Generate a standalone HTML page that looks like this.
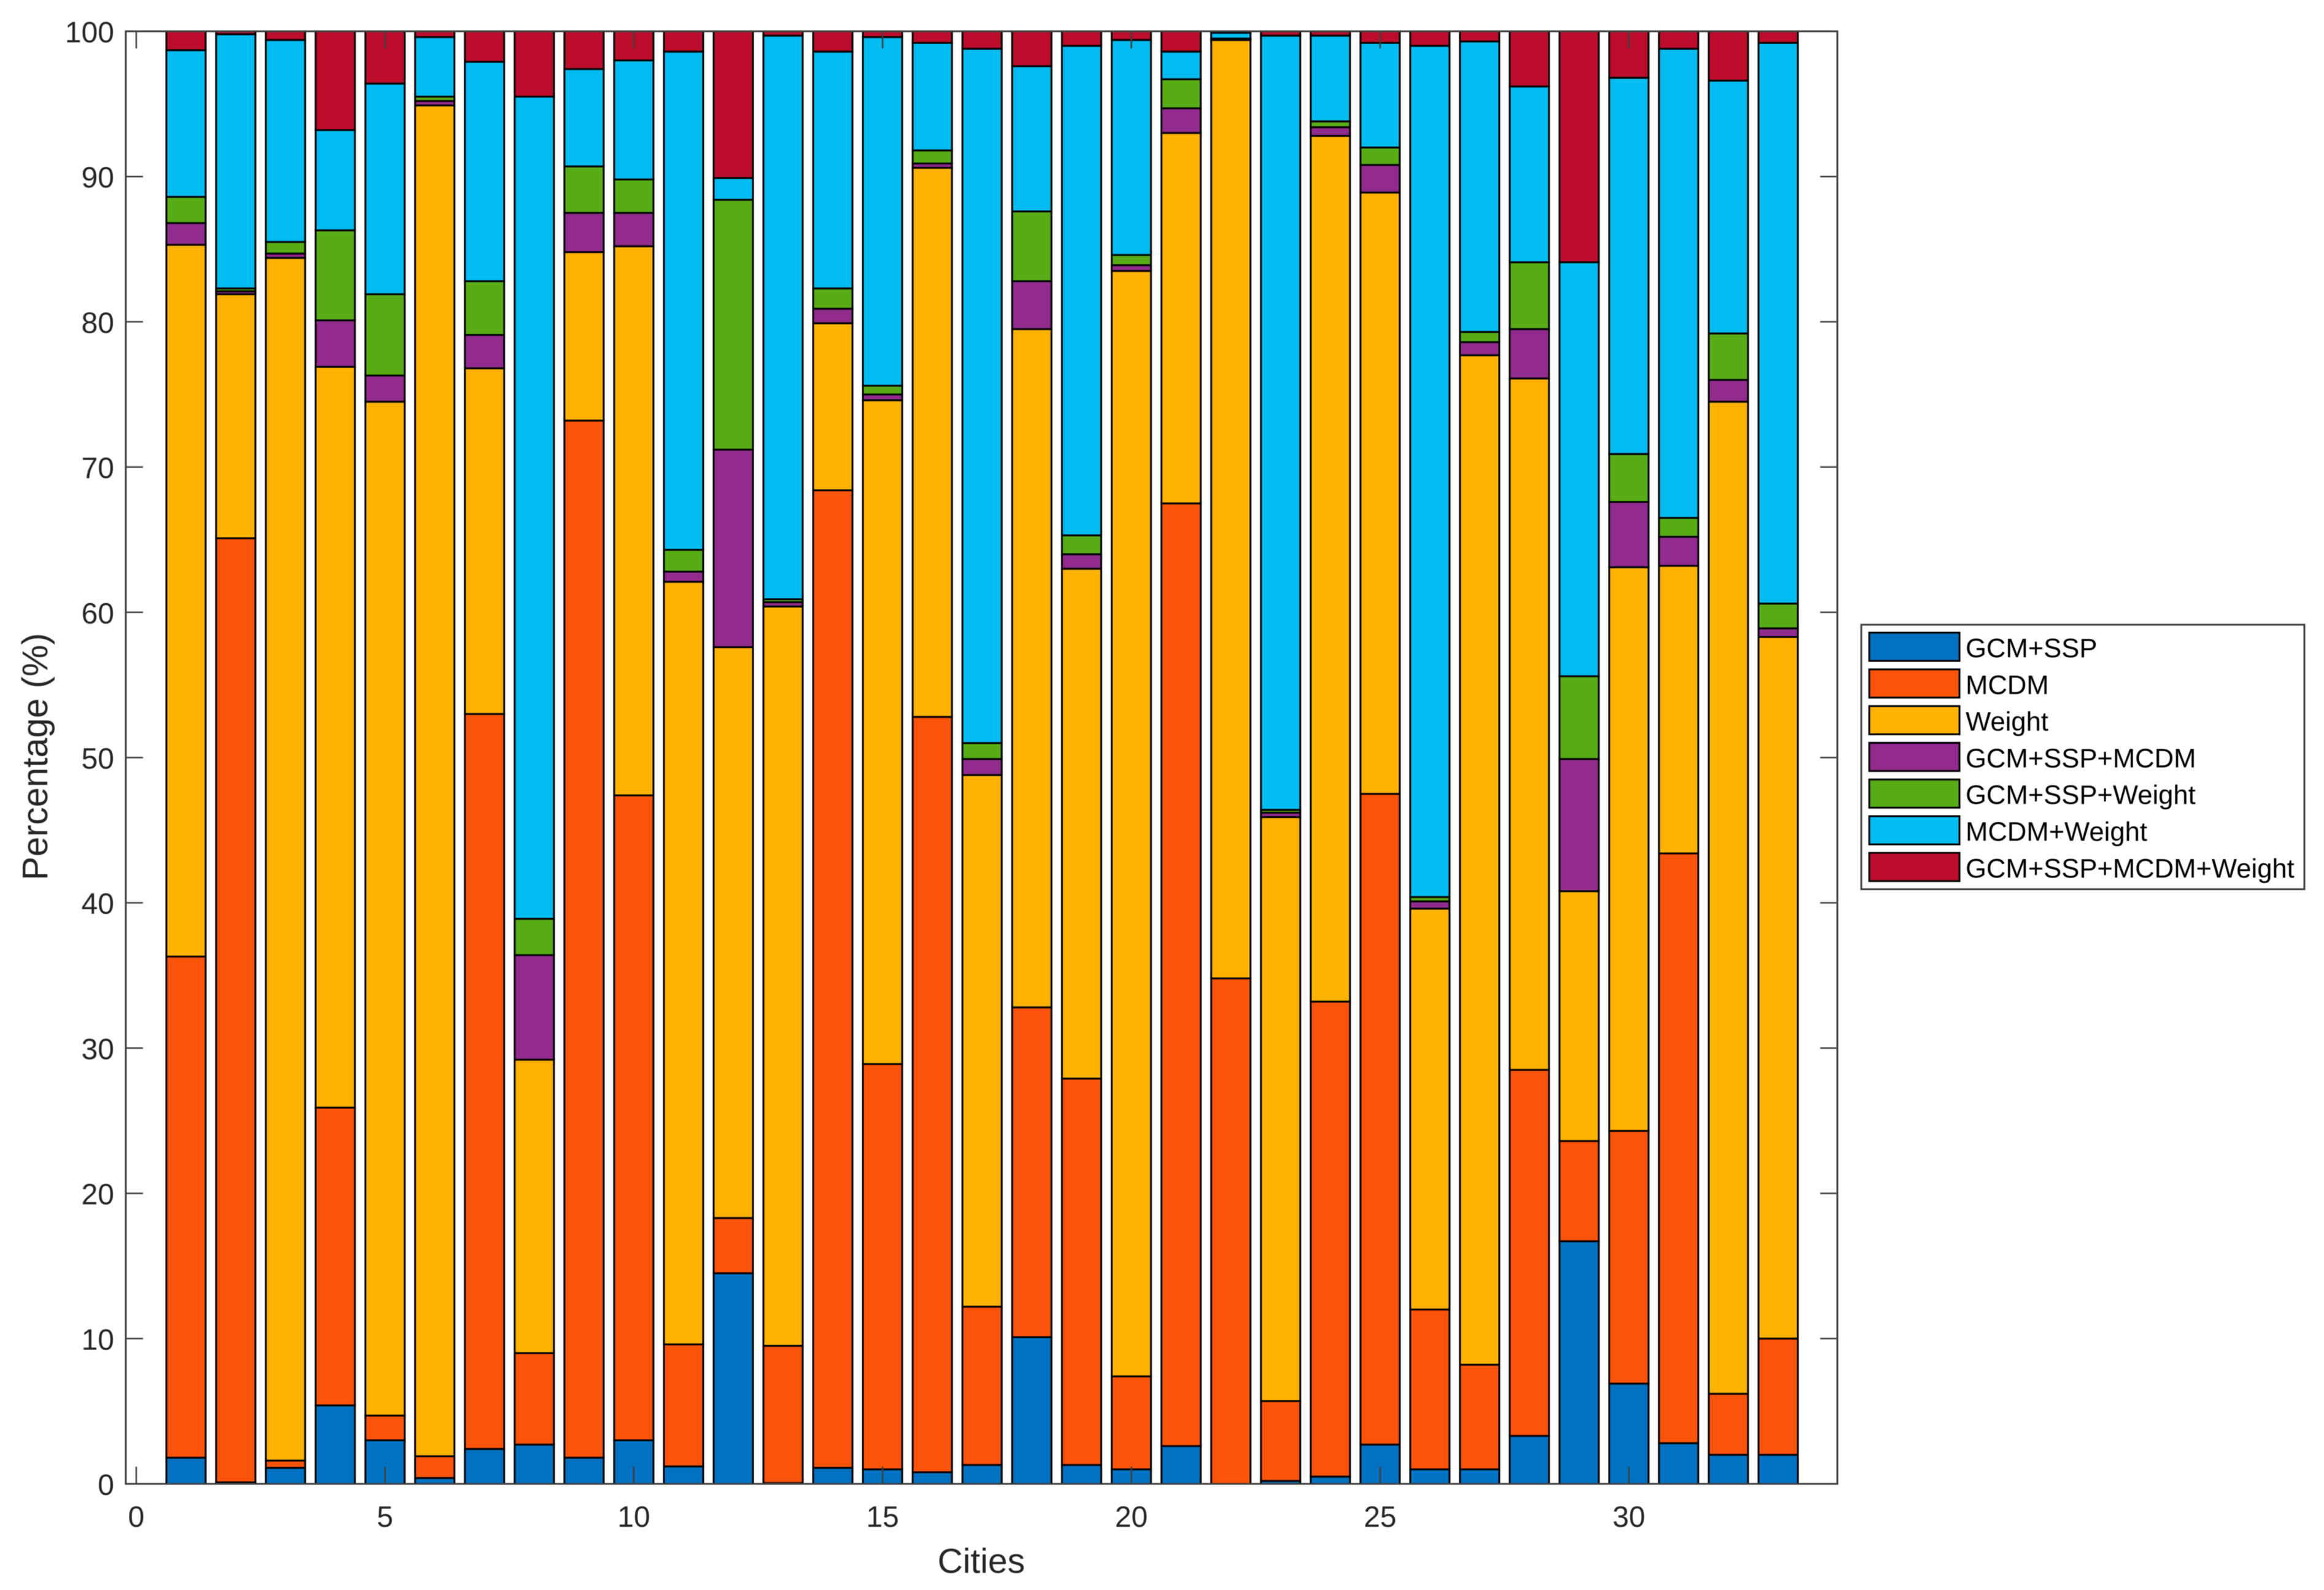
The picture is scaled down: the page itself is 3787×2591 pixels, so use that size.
<!DOCTYPE html>
<html lang="en">
<head>
<meta charset="utf-8">
<title>Stacked percentage bars by city</title>
<style>
html,body{margin:0;padding:0;background:#fff;}
svg{display:block;font-family:"Liberation Sans",Arial,sans-serif;filter:blur(0.6px);}
</style>
</head>
<body>
<svg id="chart" xmlns="http://www.w3.org/2000/svg" width="3787" height="2591" viewBox="0 0 3787 2591">
  <rect x="0" y="0" width="3787" height="2591" fill="#ffffff"/>
  <g id="bars"></g>
  <g id="axes"></g>
  <g id="legend"></g>
</svg>
<script>
const seriesNames = ["GCM+SSP","MCDM","Weight","GCM+SSP+MCDM","GCM+SSP+Weight","MCDM+Weight","GCM+SSP+MCDM+Weight"];
const seriesColors = ["#0072C1","#FA540A","#FFB200","#922B8E","#58AC16","#00BCF1","#BC0E2C"];
const gcmSsp = [1.8,0.1,1.1,5.4,3.0,0.4,2.4,2.7,1.8,3.0,1.2,14.5,0.05,1.1,1.0,0.8,1.3,10.1,1.3,1.0,2.6,0,0.2,0.5,2.7,1.0,1.0,3.3,16.7,6.9,2.8,2.0,2.0];
const mcdm = [34.5,65.0,0.5,20.5,1.7,1.5,50.6,6.3,71.4,44.4,8.4,3.8,9.45,67.3,27.9,52.0,10.9,22.7,26.6,6.4,64.9,34.8,5.5,32.7,44.8,11.0,7.2,25.2,6.9,17.4,40.6,4.2,8.0];
const weight = [49.0,16.8,82.8,51.0,69.8,93.0,23.8,20.2,11.6,37.8,52.5,39.3,50.9,11.5,45.7,37.8,36.6,46.7,35.1,76.1,25.5,64.6,40.2,59.6,41.4,27.6,69.5,47.6,17.2,38.8,19.8,68.3,48.3];
const gcmSspMcdm = [1.5,0.2,0.3,3.2,1.8,0.3,2.3,7.2,2.7,2.3,0.7,13.6,0.3,1.0,0.4,0.3,1.1,3.3,1.0,0.4,1.7,0.05,0.3,0.6,1.9,0.5,0.9,3.4,9.1,4.5,2.0,1.5,0.6];
const gcmSspWeight = [1.8,0.2,0.8,6.2,5.6,0.3,3.7,2.5,3.2,2.3,1.5,17.2,0.2,1.4,0.6,0.9,1.1,4.8,1.3,0.7,2.0,0.05,0.2,0.4,1.2,0.3,0.7,4.6,5.7,3.3,1.3,3.2,1.7];
const mcdmWeight = [10.1,17.5,13.9,6.9,14.5,4.1,15.1,56.6,6.7,8.2,34.3,1.5,38.8,16.3,24.0,7.4,47.8,10.0,33.7,14.8,1.9,0.4,53.3,5.9,7.2,58.6,20.0,12.1,28.5,25.9,32.3,17.4,38.6];
const allFour = [1.3,0.2,0.6,6.8,3.6,0.4,2.1,4.5,2.6,2.0,1.4,10.1,0.3,1.4,0.4,0.8,1.2,2.4,1.0,0.6,1.4,0.1,0.3,0.3,0.8,1.0,0.7,3.8,15.9,3.2,1.2,3.4,0.8];
const xTickLabels = [0,5,10,15,20,25,30];
const yTickLabels = [0,10,20,30,40,50,60,70,80,90,100];

const NS = "http://www.w3.org/2000/svg";
const plot = {left:205, right:2994, top:51, bottom:2418};
const xDomain = [-0.21, 34.19];
const yDomain = [0, 100];
const barFraction = 0.79;
const tickLength = 28;
const axisColor = "#404040";
const textColor = "#262626";

function xScale(v){
  return plot.left + (v - xDomain[0]) / (xDomain[1] - xDomain[0]) * (plot.right - plot.left);
}
function yScale(v){
  return plot.bottom - (v - yDomain[0]) / (yDomain[1] - yDomain[0]) * (plot.bottom - plot.top);
}
function make(tag, parent, attrs){
  const el = document.createElementNS(NS, tag);
  for (const k in attrs) el.setAttribute(k, attrs[k]);
  parent.appendChild(el);
  return el;
}

const allSeries = [gcmSsp, mcdm, weight, gcmSspMcdm, gcmSspWeight, mcdmWeight, allFour];
const barsGroup = document.getElementById("bars");
const bandWidth = xScale(1) - xScale(0);
const barWidth = bandWidth * barFraction;
const running = gcmSsp.map(() => 0);

allSeries.forEach(function(values, s){
  const group = make("g", barsGroup, {});
  
  
  values.forEach(function(v, i){
    const y0 = yScale(running[i]);
    const y1 = yScale(running[i] + v);
    const rect = make("rect", group, {
      x: xScale(i + 1) - barWidth / 2,
      y: y1,
      width: barWidth,
      height: Math.max(y0 - y1, 0),
      fill: seriesColors[s],
      stroke: "#000000",
      "stroke-width": 3
    });
    
    
    running[i] += v;
  });
});

const axesGroup = document.getElementById("axes");
const box = make("rect", axesGroup, {
  x: plot.left, y: plot.top,
  width: plot.right - plot.left, height: plot.bottom - plot.top,
  fill: "none", stroke: axisColor, "stroke-width": 3
});



xTickLabels.forEach(function(t){
  const x = xScale(t);
  const tickB = make("line", axesGroup, {x1:x, x2:x, y1:plot.bottom, y2:plot.bottom - tickLength, stroke:axisColor, "stroke-width":2.5});
  
  
  const tickT = make("line", axesGroup, {x1:x, x2:x, y1:plot.top, y2:plot.top + tickLength, stroke:axisColor, "stroke-width":2.5});
  
  
  const label = make("text", axesGroup, {x:x, y:2488, "text-anchor":"middle", "font-size":48, fill:textColor});
  label.textContent = t;
  
  
});

yTickLabels.forEach(function(t){
  const y = yScale(t);
  const tickL = make("line", axesGroup, {x1:plot.left, x2:plot.left + tickLength, y1:y, y2:y, stroke:axisColor, "stroke-width":2.5});
  
  
  const tickR = make("line", axesGroup, {x1:plot.right, x2:plot.right - tickLength, y1:y, y2:y, stroke:axisColor, "stroke-width":2.5});
  
  
  const label = make("text", axesGroup, {x:186, y:y + 18, "text-anchor":"end", "font-size":48, fill:textColor});
  label.textContent = t;
  
  
});

const xTitle = make("text", axesGroup, {x:1599, y:2563, "text-anchor":"middle", "font-size":57, fill:textColor});
xTitle.textContent = "Cities";



const yTitle = make("text", axesGroup, {x:0, y:0, "text-anchor":"middle", "font-size":58, fill:textColor, transform:"translate(77 1233) rotate(-90)"});
yTitle.textContent = "Percentage (%)";



const legendGroup = document.getElementById("legend");
const legendBox = make("rect", legendGroup, {x:3033, y:1018, width:722, height:431, fill:"#ffffff", stroke:axisColor, "stroke-width":3});



seriesNames.forEach(function(name, i){
  const top = 1031 + i * 59.8;
  const entry = make("g", legendGroup, {});
  
  
  const swatch = make("rect", entry, {x:3046, y:top, width:147, height:46, fill:seriesColors[i], stroke:"#000000", "stroke-width":3});
  
  
  const label = make("text", entry, {x:3203, y:top + 40, "font-size":43.6, fill:"#000000"});
  label.textContent = name;
  
  
});
</script>
</body>
</html>
